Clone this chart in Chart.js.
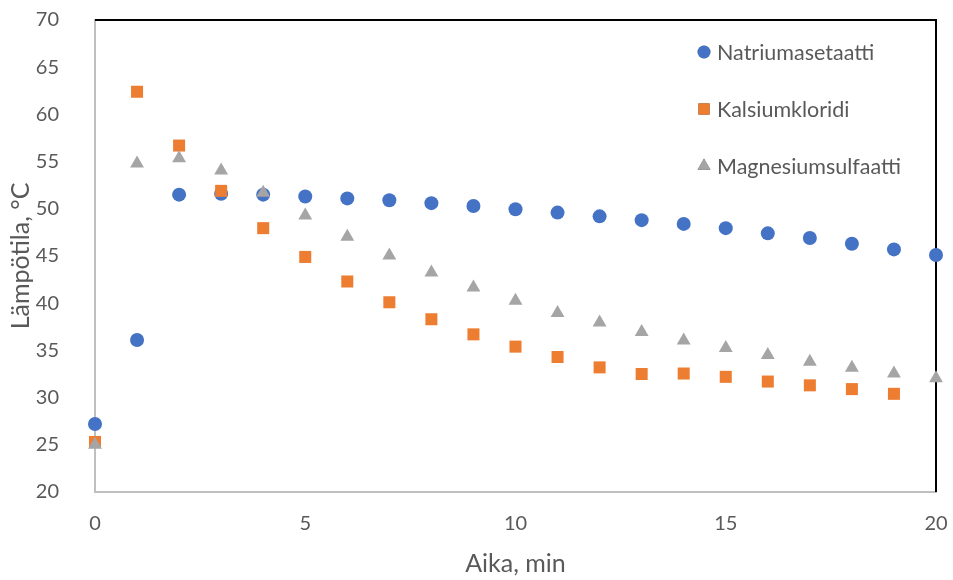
<!DOCTYPE html>
<html>
<head>
<meta charset="utf-8">
<script src="https://cdn.jsdelivr.net/npm/chart.js@4/dist/chart.umd.min.js"></script>
<style>
  html, body { margin: 0; padding: 0; background: #fff; }
  #wrap { width: 953px; height: 580px; }
</style>
</head>
<body>
<div id="wrap"><canvas id="myChart"></canvas></div>
<script>
const FONT = 'Lato, "Liberation Sans", sans-serif';
const TEXT_COLOR = '#595959';

const minutes = [0, 1, 2, 3, 4, 5, 6, 7, 8, 9, 10, 11, 12, 13, 14, 15, 16, 17, 18, 19, 20];
const natriumasetaatti = [27.2, 36.1, 51.5, 51.6, 51.5, 51.3, 51.1, 50.9, 50.6, 50.3, 49.95, 49.6, 49.2, 48.8, 48.4, 47.95, 47.4, 46.9, 46.3, 45.7, 45.1];
const kalsiumkloridi = [25.3, 62.4, 56.7, 51.9, 47.95, 44.9, 42.3, 40.1, 38.3, 36.7, 35.4, 34.3, 33.2, 32.5, 32.55, 32.2, 31.7, 31.3, 30.9, 30.4];
const magnesiumsulfaatti = [25.0, 54.8, 55.35, 54.05, 51.7, 49.3, 47.05, 45.05, 43.25, 41.65, 40.25, 38.95, 37.95, 36.95, 36.05, 35.25, 34.5, 33.8, 33.15, 32.55, 32.05];
const yTicks = [20, 25, 30, 35, 40, 45, 50, 55, 60, 65, 70];
const xTicks = [0, 5, 10, 15, 20];

const toPoints = (vals) => vals.map((v, i) => ({ x: minutes[i], y: v }));

// black top and right edge of the plot, drawn under the markers
const frame = {
  id: 'frame',
  beforeDatasetsDraw(chart) {
    const { ctx, chartArea: a } = chart;
    ctx.save();
    ctx.strokeStyle = '#000';
    ctx.lineWidth = 2;
    ctx.beginPath();
    ctx.moveTo(a.left, a.top);
    ctx.lineTo(a.right, a.top);
    ctx.lineTo(a.right, a.bottom);
    ctx.stroke();
    ctx.restore();
  },
};

const sideLegend = {
  id: 'sideLegend',
  afterDraw(chart) {
    const { ctx } = chart;
    ctx.save();
    chart.data.datasets.forEach((ds, i) => {
      const y = 52 + i * 57;
      Chart.helpers.drawPoint(ctx, {
        pointStyle: ds.pointStyle,
        radius: ds.legendRadius,
        borderWidth: 0,
        rotation: 0,
      }, 704, y);
      ctx.fillStyle = ds.backgroundColor;
      ctx.fill();
      ctx.fillStyle = TEXT_COLOR;
      ctx.font = '21.5px ' + FONT;
      ctx.textBaseline = 'middle';
      ctx.fillText(ds.label, 717, y + 1);
    });
    ctx.restore();
  },
};

const ctx = document.getElementById('myChart');

const myChart = new Chart(ctx, {
  type: 'scatter',
  data: {
    datasets: [
      {
        label: 'Natriumasetaatti',
        data: toPoints(natriumasetaatti),
        pointStyle: 'circle',
        pointRadius: 7,
        legendRadius: 6.5,
        backgroundColor: '#4472C4',
        borderColor: '#4472C4',
        borderWidth: 0,
        clip: false,
        order: 3,
      },
      {
        label: 'Kalsiumkloridi',
        data: toPoints(kalsiumkloridi),
        pointStyle: 'rect',
        pointRadius: 8.5,
        legendRadius: 8,
        backgroundColor: '#ED7D31',
        borderColor: '#ED7D31',
        borderWidth: 0,
        clip: false,
        order: 2,
      },
      {
        label: 'Magnesiumsulfaatti',
        data: toPoints(magnesiumsulfaatti),
        pointStyle: 'triangle',
        pointRadius: 8,
        legendRadius: 7.5,
        backgroundColor: '#A5A5A5',
        borderColor: '#A5A5A5',
        borderWidth: 0,
        clip: false,
        order: 1,
      },
    ],
  },
  options: {
    responsive: true,
    maintainAspectRatio: false,
    animation: false,
    layout: { padding: { top: 20, right: 17, left: 0, bottom: 0 } },
    plugins: {
      legend: { display: false },
      tooltip: { enabled: false },
    },
    scales: {
      x: {
        type: 'linear',
        min: 0,
        max: 20,
        afterBuildTicks: (scale) => { scale.ticks = xTicks.map((v) => ({ value: v })); },
        afterFit: (scale) => {
          scale.height = 88;
          scale.paddingLeft = 0;
          scale.paddingRight = 0;
        },
        grid: { display: false, drawTicks: false },
        border: { display: true, color: '#BFBFBF', width: 2 },
        ticks: { color: TEXT_COLOR, font: { family: FONT, size: 20 }, padding: 20 },
        title: {
          display: true,
          text: 'Aika, min',
          color: TEXT_COLOR,
          font: { family: FONT, size: 25 },
          padding: { top: 0, bottom: 1 },
        },
      },
      y: {
        min: 20,
        max: 70,
        afterBuildTicks: (scale) => { scale.ticks = yTicks.map((v) => ({ value: v })); },
        afterFit: (scale) => {
          scale.width = 95;
          scale.paddingTop = 0;
          scale.paddingBottom = 0;
        },
        grid: { display: false, drawTicks: false },
        border: { display: true, color: '#BFBFBF', width: 2 },
        ticks: { color: TEXT_COLOR, font: { family: FONT, size: 20 }, padding: 36 },
        title: {
          display: true,
          text: 'Lämpötila, °C',
          color: TEXT_COLOR,
          font: { family: FONT, size: 25 },
          padding: { top: 6, bottom: 0 },
        },
      },
    },
  },
  plugins: [frame, sideLegend],
});
</script>
</body>
</html>
